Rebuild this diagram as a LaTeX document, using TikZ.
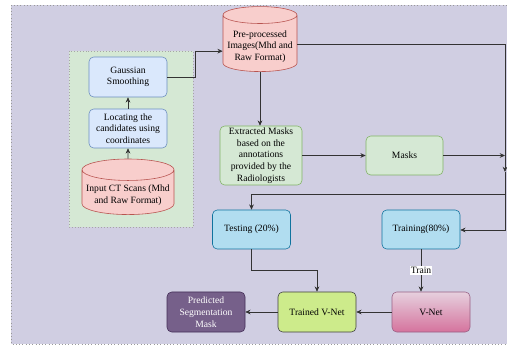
\documentclass[tikz,border=0pt]{standalone}
\usepackage{fontspec}
\setmainfont{Liberation Serif}
\usepackage{tikz}
\usetikzlibrary{shapes.geometric, arrows.meta, positioning}

\definecolor{bgpurple}{HTML}{D0CEE2}
\definecolor{grpgreen}{HTML}{D5E8D4}
\definecolor{lineg}{HTML}{82B366}
\definecolor{blfill}{HTML}{DAE8FC}
\definecolor{blline}{HTML}{6C8EBF}
\definecolor{rdfill}{HTML}{F8CECC}
\definecolor{rdline}{HTML}{B85450}
\definecolor{cyfill}{HTML}{B1DDF0}
\definecolor{cyline}{HTML}{10739E}
\definecolor{limefill}{HTML}{CDEB8B}
\definecolor{pktop}{HTML}{E6D0DE}
\definecolor{pkbot}{HTML}{D5739D}
\definecolor{pkline}{HTML}{996185}
\definecolor{ppfill}{HTML}{76608A}
\definecolor{ppline}{HTML}{432D57}

\begin{document}
\begin{tikzpicture}[
    x=0.03cm, y=-0.03cm,
    font=\fontsize{8.2}{10}\selectfont,
    rbox/.style={rectangle, rounded corners=4pt, draw, line width=0.5pt, minimum width=2.34cm, minimum height=1.2cm, align=center, inner sep=1pt},
    bluebox/.style={rbox, fill=blfill, draw=blline},
    greenbox/.style={rbox, fill=grpgreen, draw=lineg},
    cyanbox/.style={rbox, fill=cyfill, draw=cyline},
    db/.style={cylinder, shape border rotate=90, aspect=0.25, draw=rdline, fill=rdfill, line width=0.5pt, align=center, inner sep=1pt},
    link/.style={draw=black!80, line width=0.6pt, -{Stealth[length=4.5pt, width=4pt]}}
]
    \useasboundingbox (0,0) rectangle (507,347);
    \fill[bgpurple] (11,5) rectangle (520,344);
    \draw[black!40, dotted, line width=0.8pt] (520,5) -- (11,5) -- (11,344) -- (520,344);
    \draw[black!35, dotted, fill=grpgreen, line width=0.5pt] (69,51) rectangle (193,227);

    \node (gauss) [bluebox] at (128,77) {Gaussian\\Smoothing};
    \node (locate) [bluebox, minimum height=1.17cm] at (128,128.5) {Locating the\\candidates using\\coordinates};
    \node (input) [db, minimum width=2.76cm, minimum height=1.53cm] at (128,193.5) {\\[-2pt]Input CT Scans (Mhd\\and Raw Format)};
    \node (pre) [db, minimum width=2.22cm, minimum height=1.95cm] at (260,44.5) {\\[-1pt]Pre-processed\\Images(Mhd and\\Raw Format)};
    \node (extract) [greenbox, minimum width=2.46cm, minimum height=1.77cm] at (261,155.5) {Extracted Masks\\based on the\\annotations\\provided by the\\Radiologists};
    \node (masks) [greenbox, minimum width=2.31cm, minimum height=1.17cm] at (404.5,155.5) {Masks};
    \node (test) [cyanbox, minimum height=1.17cm] at (251.5,229.5) {Testing (20\%)};
    \node (train) [cyanbox, minimum height=1.17cm] at (421,229.5) {Training(80\%)};
    \node (trained) [rbox, fill=limefill, draw=black!75] at (317,312) {Trained V-Net};
    \node (vnet) [rbox, top color=pktop, bottom color=pkbot, draw=pkline] at (431,312) {V-Net};
    \node (pred) [rbox, fill=ppfill, draw=ppline, text=white] at (206,312) {Predicted\\Segmentation\\Mask};

    \coordinate (railtop) at (505,44);
    \coordinate (railmid) at (505,172);
    \coordinate (railtest) at (505,194);
    \coordinate (railtrain) at (505,230);
    \coordinate (maskend) at (505,155.5);

    \draw [link] (input.north) -- (locate.south);
    \draw [link] (locate.north) -- (gauss.south);
    \draw [link] (gauss.east) -- ++(28,0) |- ([yshift=-0.2cm]pre.west);
    \draw [link] (pre.south) -- (extract.north -| pre.south);
    \draw [link] (extract.east) -- (masks.west);
    \draw [link] (masks.east) -- (maskend);
    \draw [link] (pre.east |- railtop) -- (railtop) -- (railmid);
    \draw [link] (railmid) -- (railtrain) -- (train.east |- railtrain);
    \draw [link] (railtest) -| (test.north);
    \draw [link] (test.south) |- (317,270) -- (trained.north);
    \draw [link] (train.south) -- node[fill=white, inner sep=1pt] {Train} (vnet.north -| train.south);
    \draw [link] (vnet.west) -- (trained.east);
    \draw [link] (trained.west) -- (pred.east);
\end{tikzpicture}
\end{document}
